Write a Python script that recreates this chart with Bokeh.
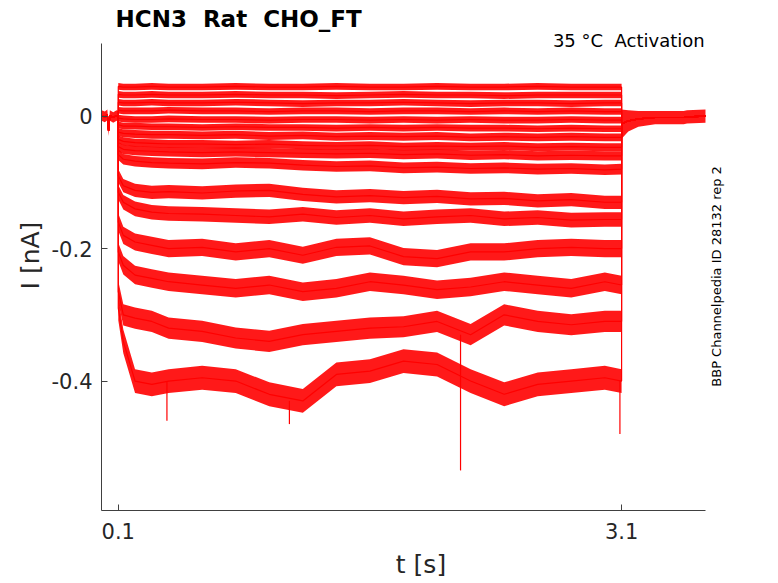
import numpy as np
from bokeh.plotting import figure
from bokeh.models import Range1d, FixedTicker, Label
from bokeh.embed import file_html
from bokeh.resources import INLINE

# time points read along the voltage step (s)
step_t = [0.1, 0.13, 0.2, 0.3, 0.4, 0.6, 0.8, 1.0, 1.2, 1.4, 1.6, 1.8,
          2.0, 2.2, 2.4, 2.6, 2.8, 3.0, 3.1]

# current of each sweep during the step (nA), top to bottom
trace_01 = [0.045, 0.044, 0.044, 0.045, 0.044, 0.044, 0.045, 0.044, 0.044, 0.045,
            0.044, 0.044, 0.045, 0.044, 0.044, 0.045, 0.044, 0.044, 0.044]
trace_02 = [0.033, 0.032, 0.032, 0.033, 0.032, 0.032, 0.033, 0.032, 0.032, 0.031,
            0.032, 0.033, 0.032, 0.032, 0.031, 0.032, 0.032, 0.032, 0.032]
trace_03 = [0.021, 0.020, 0.020, 0.021, 0.020, 0.020, 0.021, 0.020, 0.019, 0.020,
            0.020, 0.021, 0.020, 0.019, 0.020, 0.020, 0.019, 0.020, 0.020]
trace_04 = [0.009, 0.008, 0.008, 0.008, 0.009, 0.008, 0.008, 0.007, 0.008, 0.008,
            0.007, 0.008, 0.008, 0.007, 0.008, 0.007, 0.008, 0.007, 0.007]
trace_05 = [-0.003, -0.004, -0.005, -0.005, -0.004, -0.005, -0.005, -0.006, -0.005, -0.005,
            -0.006, -0.005, -0.006, -0.005, -0.006, -0.006, -0.005, -0.006, -0.006]
trace_06 = [-0.013, -0.015, -0.015, -0.016, -0.016, -0.017, -0.016, -0.017, -0.017, -0.018,
            -0.017, -0.018, -0.017, -0.018, -0.018, -0.019, -0.018, -0.019, -0.019]
trace_07 = [-0.024, -0.026, -0.027, -0.028, -0.028, -0.029, -0.028, -0.030, -0.029, -0.031,
            -0.030, -0.031, -0.030, -0.032, -0.031, -0.032, -0.031, -0.032, -0.032]
trace_08 = [-0.035, -0.038, -0.040, -0.041, -0.042, -0.042, -0.043, -0.042, -0.044, -0.045,
            -0.044, -0.046, -0.045, -0.046, -0.045, -0.047, -0.046, -0.047, -0.047]
trace_09 = [-0.046, -0.050, -0.052, -0.053, -0.054, -0.055, -0.054, -0.055, -0.056, -0.057,
            -0.056, -0.058, -0.057, -0.059, -0.058, -0.060, -0.059, -0.060, -0.060]
trace_10 = [-0.058, -0.065, -0.068, -0.070, -0.071, -0.072, -0.070, -0.071, -0.074, -0.076,
            -0.075, -0.078, -0.077, -0.079, -0.078, -0.080, -0.079, -0.081, -0.080]
trace_11 = [-0.090, -0.105, -0.112, -0.115, -0.114, -0.116, -0.113, -0.112, -0.118, -0.122,
            -0.120, -0.123, -0.121, -0.125, -0.124, -0.128, -0.126, -0.130, -0.130]
trace_12 = [-0.115, -0.130, -0.140, -0.145, -0.147, -0.148, -0.150, -0.152, -0.148, -0.153,
            -0.150, -0.155, -0.152, -0.150, -0.155, -0.153, -0.157, -0.156, -0.156]
trace_13 = [-0.160, -0.180, -0.190, -0.195, -0.200, -0.198, -0.205, -0.200, -0.210, -0.198,
            -0.196, -0.212, -0.215, -0.205, -0.205, -0.200, -0.198, -0.200, -0.200]
trace_14 = [-0.205, -0.225, -0.240, -0.245, -0.250, -0.255, -0.260, -0.255, -0.265, -0.260,
            -0.250, -0.255, -0.262, -0.258, -0.250, -0.255, -0.260, -0.250, -0.255]
trace_15 = [-0.265, -0.300, -0.305, -0.310, -0.320, -0.325, -0.335, -0.340, -0.330, -0.325,
            -0.320, -0.318, -0.310, -0.330, -0.300, -0.310, -0.315, -0.310, -0.310]
trace_16 = [-0.290, -0.340, -0.400, -0.405, -0.400, -0.395, -0.400, -0.420, -0.430, -0.390,
            -0.385, -0.370, -0.375, -0.400, -0.420, -0.405, -0.400, -0.395, -0.400]

traces = [trace_01, trace_02, trace_03, trace_04, trace_05, trace_06, trace_07, trace_08,
          trace_09, trace_10, trace_11, trace_12, trace_13, trace_14, trace_15, trace_16]

# half width of the noise band of each sweep (nA)
noise_amp = [0.005, 0.005, 0.005, 0.005, 0.005, 0.005, 0.006, 0.006,
             0.007, 0.008, 0.010, 0.011, 0.013, 0.014, 0.016, 0.018]

# holding current before the step
hold_t = [0.0, 0.02, 0.035, 0.042, 0.05, 0.07, 0.09, 0.1]
hold_i = [0.001, -0.001, 0.002, -0.022, 0.001, -0.002, 0.001, 0.0]
hold_amp = 0.008

# tail after the step
post_t = [3.1, 3.14, 3.2, 3.3, 3.47, 3.49, 3.6]
post_i = [-0.012, -0.007, -0.004, -0.002, -0.002, -0.001, 0.0]
post_amp = [0.022, 0.016, 0.012, 0.010, 0.010, 0.010, 0.010]

# single large spikes
spike_t = [0.39, 1.12, 2.14, 3.09]
spike_from = [-0.40, -0.43, -0.33, -0.40]
spike_to = [-0.46, -0.465, -0.535, -0.48]

x_ticks = [0.1, 3.1]
y_ticks = [-0.4, -0.2, 0]
y_tick_text = {-0.4: "-0.4", -0.2: "-0.2", 0: "0"}

FONT = "DejaVu Sans"
AXC = "#262626"
RED = "#ff0000"

# the frame also holds the title and side notes; the axes keep to the data limits
p = figure(width=776, height=581, output_backend="svg", toolbar_location=None,
           x_range=Range1d(0, 3.8087), y_range=Range1d(-0.5955, 0.1747),
           min_border_left=101, min_border_right=36, min_border_top=0,
           min_border_bottom=69)

p.outline_line_color = None
p.grid.visible = False
p.background_fill_color = "white"
p.border_fill_color = "white"

# noise bands
p.varea(x=hold_t, y1=np.array(hold_i) - hold_amp, y2=np.array(hold_i) + hold_amp,
        fill_color=RED, fill_alpha=0.9)
p.varea(x=post_t, y1=np.array(post_i) - np.array(post_amp),
        y2=np.array(post_i) + np.array(post_amp), fill_color=RED, fill_alpha=0.9)
for k, tr in enumerate(traces):
    tr = np.array(tr)
    p.varea(x=step_t, y1=tr - noise_amp[k], y2=tr + noise_amp[k],
            fill_color=RED, fill_alpha=0.9)

# the sweeps themselves
for tr in traces:
    p.line(hold_t + step_t + post_t, hold_i + tr + post_i, line_color=RED, line_width=1.2)

p.segment(x0=spike_t, y0=spike_from, x1=spike_t, y1=spike_to, line_color=RED, line_width=1.2)

# axes
for ax in (p.xaxis, p.yaxis):
    ax.axis_line_color = "#404040"
    ax.major_tick_line_color = "#404040"
    ax.major_tick_in = 6
    ax.major_tick_out = 0
    ax.minor_tick_line_color = None
    ax.major_label_text_font = FONT
    ax.major_label_text_font_size = "21px"
    ax.major_label_text_color = AXC
    ax.axis_label_text_font = FONT
    ax.axis_label_text_font_size = "25px"
    ax.axis_label_text_font_style = "normal"
    ax.axis_label_text_color = AXC

p.xaxis.bounds = (0, 3.6)
p.yaxis.bounds = (-0.5955, 0.11)
p.xaxis.ticker = FixedTicker(ticks=x_ticks)
p.yaxis.ticker = FixedTicker(ticks=y_ticks)
p.yaxis.major_label_overrides = y_tick_text
p.xaxis.axis_label = "t [s]"
p.yaxis.axis_label = "I [nA]"
p.xaxis.major_label_standoff = 12
p.xaxis.axis_label_standoff = 8
p.yaxis.major_label_standoff = 9
p.yaxis.axis_label_standoff = 4

p.add_layout(Label(x=0.0835, y=0.1474, text="HCN3 \u00a0Rat \u00a0CHO_FT", text_align="left",
                   text_baseline="middle", text_font=FONT, text_font_style="bold",
                   text_font_size="23px", text_color="#000000"))
p.add_layout(Label(x=3.595, y=0.1143, text="35 °C \u00a0Activation", text_align="right",
                   text_baseline="middle", text_font=FONT, text_font_size="18px",
                   text_color="#000000"))
p.add_layout(Label(x=3.667, y=-0.242, text="BBP Channelpedia ID 28132 rep 2",
                   angle=np.pi / 2, text_align="center", text_baseline="middle",
                   text_font=FONT, text_font_size="13px", text_color="#000000"))

open("out.html", "w").write(file_html(p, INLINE))
